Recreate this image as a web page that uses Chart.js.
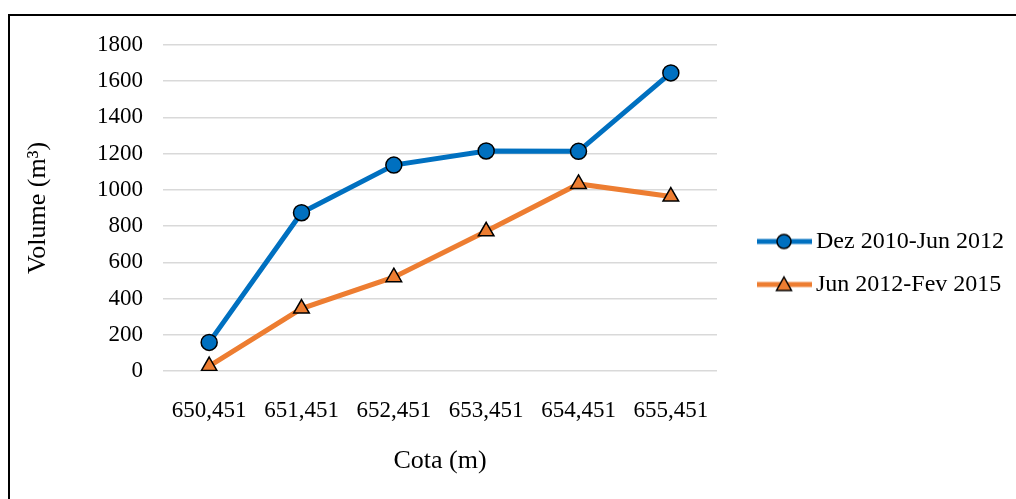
<!DOCTYPE html>
<html>
<head>
<meta charset="utf-8">
<script src="https://cdn.jsdelivr.net/npm/chart.js@4/dist/chart.umd.min.js"></script>
<style>
    body { margin: 0; background: #fff; }
    #wrap { position: relative; width: 1016px; height: 499px; overflow: hidden; }
    #cadre { position: absolute; left: 8px; top: 14px; width: 1100px; height: 600px; border: 2px solid #000; pointer-events: none; }
    canvas { position: absolute; left: 0; top: 0; }
</style>
</head>
<body>
<div id="wrap">
    <canvas id="graficoVolume" width="1016" height="499"></canvas>
    <div id="cadre"></div>
</div>
<script>
// dados
const cotas = ['650,451', '651,451', '652,451', '653,451', '654,451', '655,451'];
const volumeDez2010 = [158, 874, 1137, 1215, 1213, 1646];
const volumeJun2012 = [27, 345, 518, 771, 1033, 963];
const nomesSeries = ['Dez 2010-Jun 2012', 'Jun 2012-Fev 2015'];

const azul = '#0070C0';
const laranja = '#ED7D31';
const fonte = 'Liberation Serif, Times New Roman, serif';

// ícone da legenda: linha + marcador (desenhado centrado no box da legenda)
function iconeLegenda(cor, estilo) {
    const c = document.createElement('canvas');
    c.width = 100;
    c.height = 22;
    const g = c.getContext('2d');
    g.strokeStyle = cor;
    g.lineWidth = 5;
    g.beginPath();
    g.moveTo(37, 11);
    g.lineTo(92, 11);
    g.stroke();
    g.fillStyle = cor;
    g.strokeStyle = '#000';
    g.lineWidth = 1.5;
    g.beginPath();
    if (estilo === 'circle') {
        g.arc(64, 11, 7, 0, Math.PI * 2);
    } else {
        g.moveTo(64, 3.5);
        g.lineTo(71.5, 17);
        g.lineTo(56.5, 17);
        g.closePath();
    }
    g.fill();
    g.stroke();
    return c;
}

const icones = [iconeLegenda(azul, 'circle'), iconeLegenda(laranja, 'triangle')];

// largura fixa da legenda à direita
const larguraLegenda = {
    id: 'larguraLegenda',
    afterInit(chart) {
        const leg = chart.legend;
        const fitOriginal = leg.fit;
        leg.fit = function () {
            fitOriginal.call(this);
            this.width = 299;
        };
    }
};

const ctx = document.getElementById('graficoVolume');

new Chart(ctx, {
    type: 'line',
    data: {
        labels: cotas,
        datasets: [{
            label: nomesSeries[0],
            data: volumeDez2010,
            borderColor: azul,
            backgroundColor: azul,
            borderWidth: 5,
            pointStyle: 'circle',
            pointRadius: 8,
            pointBorderColor: '#000',
            pointBorderWidth: 1.5,
            pointBackgroundColor: azul,
            tension: 0,
        }, {
            label: nomesSeries[1],
            data: volumeJun2012,
            borderColor: laranja,
            backgroundColor: laranja,
            borderWidth: 5,
            pointStyle: 'triangle',
            pointRadius: 9,
            pointBorderColor: '#000',
            pointBorderWidth: 1.5,
            pointBackgroundColor: laranja,
            tension: 0,
        }]
    },
    options: {
        responsive: false,
        animation: false,
        layout: {
            padding: { left: 18, top: 45, right: 0, bottom: 18 }
        },
        scales: {
            x: {
                offset: true,
                grid: { display: false, drawTicks: false },
                border: { display: false },
                ticks: {
                    color: '#000',
                    padding: 26,
                    font: { family: fonte, size: 23 },
                },
                title: {
                    display: true,
                    text: 'Cota (m)',
                    color: '#000',
                    padding: { top: 14, bottom: 4 },
                    font: { family: fonte, size: 26 },
                },
                afterFit: (scale) => { scale.height = 110; },
            },
            y: {
                min: 0,
                max: 1800,
                ticks: {
                    stepSize: 200,
                    color: '#000',
                    padding: 20,
                    font: { family: fonte, size: 23 },
                    callback: (v) => String(v),
                },
                grid: { color: '#d9d9d9', lineWidth: 1.5, drawTicks: false },
                border: { display: false },
                title: {
                    display: true,
                    text: 'Volume (m³)',
                    color: '#000',
                    padding: { top: 5, bottom: 10 },
                    font: { family: fonte, size: 26 },
                },
                afterFit: (scale) => { scale.width = 145; },
            }
        },
        plugins: {
            legend: {
                position: 'right',
                labels: {
                    usePointStyle: true,
                    pointStyleWidth: 68,
                    padding: 19,
                    color: '#000',
                    font: { family: fonte, size: 24 },
                    generateLabels: (chart) => chart.data.datasets.map((ds, i) => ({
                        text: ds.label,
                        pointStyle: icones[i],
                        fillStyle: ds.borderColor,
                        strokeStyle: ds.borderColor,
                        lineWidth: 0,
                        datasetIndex: i,
                    })),
                },
            },
            tooltip: { enabled: false },
        }
    },
    plugins: [larguraLegenda]
});
</script>
</body>
</html>
